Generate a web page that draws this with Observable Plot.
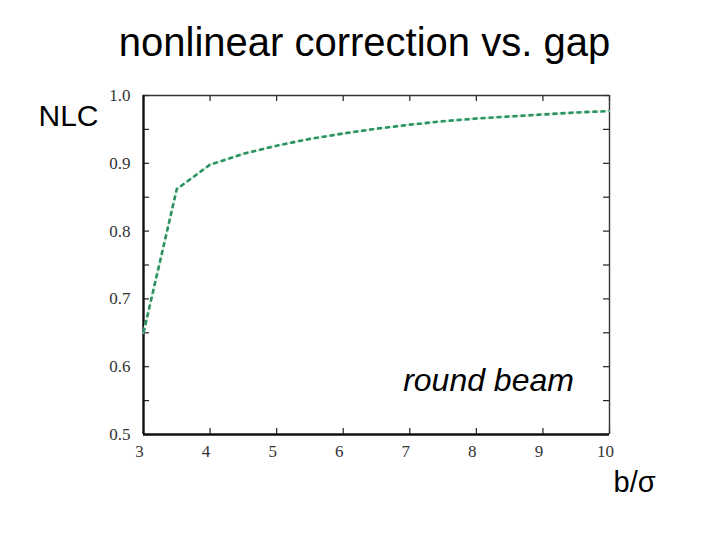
<!DOCTYPE html>
<html>
<head>
<meta charset="utf-8">
<script src="https://cdn.jsdelivr.net/npm/d3@7"></script>
<script src="https://cdn.jsdelivr.net/npm/@observablehq/plot@0.6"></script>
<style>
  body { margin: 0; background: #fff; }
  #title { position: relative; height: 70px; width: 720px; font-family: "Liberation Sans", Arial, sans-serif; font-size: 40px; color: #000; }
  #title span { position: absolute; left: 0; width: 720px; text-align: center; top: 19px; line-height: 46px; padding-left: 9px; box-sizing: border-box; }
</style>
</head>
<body>
<div id="title"><span>nonlinear correction vs. gap</span></div>
<div id="chart"></div>
<script>
const gap = [3, 3.5, 4, 4.5, 5, 5.5, 6, 6.5, 7, 7.5, 8, 8.5, 9, 9.5, 10];
const nlc = [0.650, 0.862, 0.898, 0.914, 0.926, 0.936, 0.944, 0.951, 0.957, 0.962, 0.966, 0.969, 0.972, 0.975, 0.977];
const xTicks = [3, 4, 5, 6, 7, 8, 9, 10];
const yTicks = [0.5, 0.6, 0.7, 0.8, 0.9, 1.0];
const yMinor = [0.5, 0.55, 0.6, 0.65, 0.7, 0.75, 0.8, 0.85, 0.9, 0.95, 1.0];
const yLabel = "NLC";
const xLabel = "b/σ";
const note = [{x: 6.9, y: 0.580, text: "round beam"}];

const data = gap.map((g, i) => ({g, v: nlc[i]}));

const W = 720, H = 470;
const mL = 143, mR = 111, mT = 25, mB = 106;
const fw = W - mL - mR, fh = H - mT - mB;
const tl = 6;
const serif = "'Liberation Serif', 'Times New Roman', serif";
const sans = "'Liberation Sans', Arial, sans-serif";

const chart = Plot.plot({
  width: W, height: H,
  marginLeft: mL, marginRight: mR, marginTop: mT, marginBottom: mB,
  x: {domain: [3, 10]},
  y: {domain: [0.5, 1.0]},
  marks: [
    Plot.axisX(xTicks, {tickSize: 0, tickPadding: 10, fontSize: 17, fontFamily: serif, fill: "#333", dx: -4, label: null}),
    Plot.axisY(yTicks, {tickSize: 0, tickPadding: 13, fontSize: 17, fontFamily: serif, fill: "#333", tickFormat: d3.format(".1f"), label: null}),
    // inward ticks
    Plot.ruleX(xTicks, {x: d => d, insetTop: fh - tl, stroke: "#222", strokeWidth: 1.2}),
    Plot.ruleX(xTicks, {x: d => d, insetBottom: fh - tl, stroke: "#222", strokeWidth: 1.2}),
    Plot.ruleY(yMinor, {y: d => d, insetRight: fw - tl, stroke: "#222", strokeWidth: 1.2}),
    Plot.ruleY(yMinor, {y: d => d, insetLeft: fw - tl, stroke: "#222", strokeWidth: 1.2}),
    // frame
    Plot.ruleY([1.0], {stroke: "#333", strokeWidth: 1.4}),
    Plot.ruleX([10], {stroke: "#333", strokeWidth: 1.4}),
    Plot.ruleY([0.5], {stroke: "#111", strokeWidth: 2.4}),
    Plot.ruleX([3], {stroke: "#111", strokeWidth: 2.4}),
    // curve
    Plot.line(data, {x: "g", y: "v", stroke: "#d4f2e0", strokeWidth: 2}),
    Plot.line(data, {x: "g", y: "v", stroke: "#2a9060", strokeWidth: 2.6, strokeDasharray: "5,3", strokeLinecap: "butt"}),
    // annotations
    Plot.text(note, {x: "x", y: "y", text: "text", textAnchor: "start", fontSize: 32, fontStyle: "italic", fontFamily: sans, fill: "#000"}),
    Plot.text([yLabel], {frameAnchor: "top-left", text: d => d, textAnchor: "start", dx: -(mL - 38), dy: 9, fontSize: 30, fontFamily: sans, fill: "#000"}),
    Plot.text([xLabel], {frameAnchor: "bottom-right", text: d => d, textAnchor: "start", dx: 4, dy: 57, fontSize: 29, fontFamily: sans, fill: "#000"})
  ]
});
document.getElementById("chart").appendChild(chart);
</script>
</body>
</html>
